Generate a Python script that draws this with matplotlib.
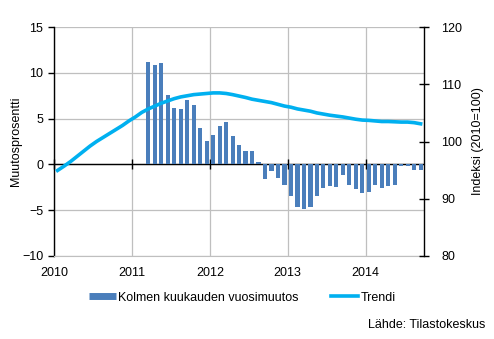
import numpy as np
import matplotlib
matplotlib.use("Agg")
import matplotlib.pyplot as plt
from matplotlib.lines import Line2D

plt.rcParams["font.family"] = ["Liberation Sans", "DejaVu Sans"]
plt.rcParams["font.size"] = 9

BAR_COLOR = "#4A7EBB"
TREND_COLOR = "#00B0F0"
GRID_COLOR = "#BFBFBF"

# monthly, Jan 2010 .. Sep 2014
trend = [94.95, 95.7, 96.5, 97.4, 98.3, 99.2, 100.0, 100.7, 101.4, 102.1, 102.8, 103.6,
         104.3, 105.1, 105.7, 106.2, 106.7, 107.1, 107.5, 107.8, 108.0, 108.2, 108.3, 108.4,
         108.5, 108.5, 108.4, 108.2, 107.95, 107.7, 107.4, 107.2, 107.0, 106.8, 106.5, 106.2,
         106.0, 105.7, 105.5, 105.3, 105.0, 104.8, 104.6, 104.45, 104.3, 104.1, 103.9, 103.75,
         103.7, 103.6, 103.5, 103.5, 103.45, 103.4, 103.4, 103.3, 103.1]
# three-month year-on-year change, Mar 2011 .. Sep 2014
change = [11.2, 10.9, 11.1, 7.55, 6.2, 6.0, 7.0, 6.5, 4.0, 2.6,
          3.2, 4.2, 4.6, 3.1, 2.1, 1.5, 1.5, 0.3, -1.6, -0.7,
          -1.5, -2.2, -3.5, -4.6, -4.9, -4.6, -3.5, -2.6, -2.4, -2.5,
          -1.2, -2.3, -2.7, -3.1, -3.0, -2.2, -2.6, -2.4, -2.3, -0.2,
          -0.2, -0.6, -0.6]
years = [2010, 2011, 2012, 2013, 2014]

x_trend = 2010 + (np.arange(len(trend)) + 0.5) / 12
x_bar = 2010 + (np.arange(14, 14 + len(change)) + 0.5) / 12

fig = plt.figure(figsize=(4.94, 3.39), dpi=100)
ax = fig.add_axes([0.110, 0.245, 0.748, 0.675])
ax2 = ax.twinx()

ax.set_xlim(2010, 2014.75)
ax.set_ylim(-10, 15)
ax2.set_ylim(80, 120)

ax.bar(x_bar, change, width=0.65 / 12, color=BAR_COLOR, zorder=3)
ax.axhline(0, color="black", lw=1.0, zorder=2.5)
# year ticks on the zero line
ax.plot(years, np.zeros(len(years)), ls="none", marker="|", ms=7, mew=1.0,
        color="black", zorder=2.6, clip_on=False)
ax2.plot(x_trend, trend, color=TREND_COLOR, lw=2.6, zorder=4)

ax.set_yticks(range(-10, 16, 5))
ax2.set_yticks(range(80, 121, 10))
ax.set_xticks(years)
ax.set_xticklabels([str(y) for y in years])
ax.grid(True, color=GRID_COLOR, lw=0.9, zorder=0)
ax.set_axisbelow(True)

for a in (ax, ax2):
    a.spines["top"].set_visible(False)
ax.spines["bottom"].set_color(GRID_COLOR)
ax.spines["right"].set_visible(False)
ax2.spines["left"].set_visible(False)
ax2.spines["bottom"].set_visible(False)
ax.spines["left"].set_linewidth(1.0)
ax2.spines["right"].set_linewidth(1.0)

ax.tick_params(axis="x", length=0, pad=8)
ax.tick_params(axis="y", direction="out", length=4, width=1, pad=4)
ax2.tick_params(axis="y", direction="inout", length=7, width=1, pad=9)

ax.set_ylabel("Muutosprosentti", labelpad=0)
ax2.set_ylabel("Indeksi (2010=100)", labelpad=7)

handles = [Line2D([], [], color=BAR_COLOR, lw=5, solid_capstyle="butt"),
           Line2D([], [], color=TREND_COLOR, lw=2.6)]
fig.legend(handles, ["Kolmen kuukauden vuosimuutos", "Trendi"], ncol=2,
           loc="center", bbox_to_anchor=(0.49, 0.122), frameon=False,
           handlelength=2.2, handletextpad=0.15, columnspacing=2.6)

fig.text(0.982, 0.04, "Lähde: Tilastokeskus", ha="right", va="center")

fig.savefig("out.png", dpi=100)
